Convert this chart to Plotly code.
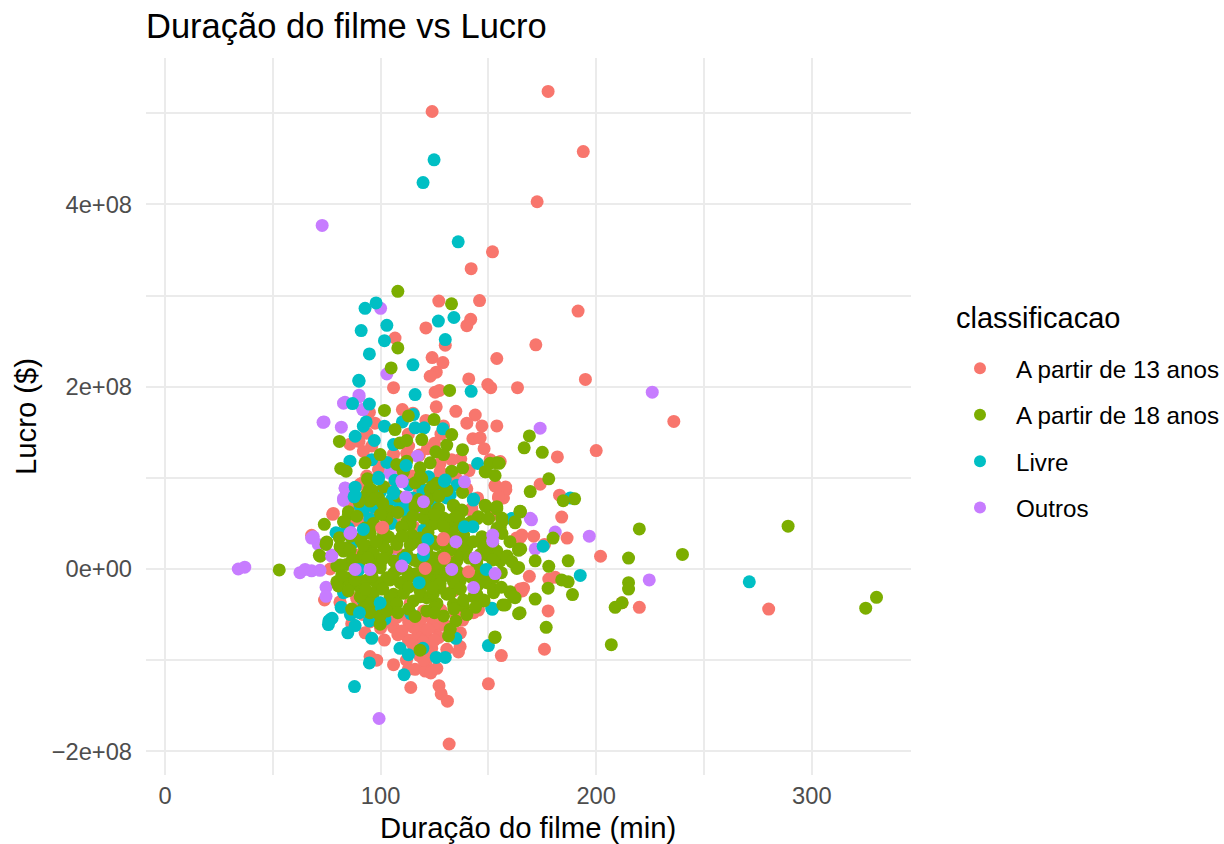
import numpy as np
import plotly.graph_objects as go

# (duracao em min, lucro em milhoes de $)
pontos_13 = [
    (177.7, 524), (123.9, 502), (194, 458), (172.6, 403), (151.9, 348), (142, 329.5), (127, 294), (145.9, 294.5),
    (141.8, 274), (140, 267), (191.6, 283), (121, 264.5), (106.7, 253.5), (172, 246), (130, 245.5), (123.9, 232),
    (128.9, 226.5), (153.9, 231), (125.8, 216), (123, 211.5), (140.9, 208.6), (195, 208), (149.7, 202.4), (151.1, 199),
    (106, 199), (163.5, 199), (125.3, 194), (127.3, 196), (125.8, 178), (134.9, 173), (110.1, 175), (115, 171),
    (94.8, 172), (97.4, 160), (121, 163), (129.2, 157), (143.9, 169), (140, 160), (147, 157), (153.9, 157),
    (142.8, 143), (146.2, 144), (148, 132), (121.7, 132), (85.8, 137), (90, 140), (93.6, 149), (95.9, 135),
    (92, 129), (106, 126), (112.1, 127), (112.9, 148), (150.8, 120), (155.5, 118), (137.2, 121), (133, 120),
    (127.6, 116), (127.6, 107), (99, 109), (93.6, 102), (114.5, 102), (153.1, 91), (158.1, 87), (154.7, 78),
    (157, 78), (121.4, 80), (77.8, 60), (94.4, 60), (97.4, 65), (87.4, 53), (106, 56), (116, 43),
    (123.8, 53), (68, 37), (142.3, 64), (90.5, 93), (163, 34), (236, 162), (200, 130), (182, 123),
    (158, 90), (174, 93), (183, 81), (184, 57), (165, 35), (171, 36), (176, 27), (186.5, 34),
    (181, -9), (178, -11), (169, -8), (165.7, -24), (177.7, -46), (176, -88), (212, -37), (220, -42),
    (280, -44), (202, 14), (74, -34), (81.2, -37), (86.6, -60), (92.8, -70), (101.8, -78), (106, -64),
    (95.1, -96), (98.2, -100), (106, -105), (112.9, -110), (116, -110), (121, -104), (120.7, -112), (123.3, -114),
    (126.1, -109), (114, -130), (127.1, -128), (128.1, -137), (131, -145), (150, -126), (156, -95), (136.9, -85),
    (136.1, -91), (130.7, -88), (123.7, -87), (112.9, -78), (125.8, -65), (138.1, -56), (143.1, -48), (145.4, -45),
    (164.7, -22), (118.3, -68), (118.3, -57), (116.8, -75), (121.4, -75), (115.2, -64), (119.9, -46), (107.5, -53),
    (123, -53), (76.6, 0), (129.2, 12), (107.5, 18), (119.9, 1.5), (118.3, -17), (133.8, -24), (96.7, -43),
    (88.9, -32), (102.9, -57), (131.8, -192),
    (91.3, 94), (114.5, 101.3), (78.1, 61), (94.4, 62.9), (106.8, 57.4), (89.7, 53.7), (99.8, 64.7), (115.3, 46.4),
    (87.4, 72), (153.2, 92), (157.8, 88.5), (154.7, 79.4), (126, 99.5), (142.3, 66.5), (136.2, 48.2), (165.5, 37.3),
    (151.6, 59.2), (107.5, 19), (81.2, -36), (95.2, -10), (113.7, -37.7), (89.7, 15.4), (166.3, -21), (123.8, -28.6),
    (133, -25), (144.7, -41), (129.2, 30), (134.6, 18), (150.5, -15.8), (110, -50), (125, -60), (113, -58),
    (128, -45), (105, -42), (120, -80), (122, -66), (118, -95), (100, -48), (135, -50), (90, -45),
    (110, -68), (105, -55), (130, -62), (127, -75), (115, -83), (122, -92), (125, -78), (108, -72),
    (100, -65), (95, -58), (92, -50), (137, -70), (120, -100), (116, -88), (112, -100), (105, 115),
    (118, 125), (125, 138), (113, 135), (100, 120), (128, 148), (110, 108), (118, 85), (105, 90),
    (140, 88), (145, 78), (135, 100), (141, 108),
]
pontos_18 = [
    (108, 304.7), (132.9, 291), (108, 242.6), (104.9, 220.7), (132, 196), (101.8, 174), (112.9, 168), (124.8, 164),
    (106.7, 153), (133, 147.5), (80.9, 140), (109, 138.4), (112.1, 141), (119.1, 142), (130.7, 136), (138, 131),
    (125.6, 128.6), (129.2, 125.6), (99.8, 125.6), (92.8, 116.5), (81.5, 110.3), (84, 107.4), (107.5, 114.7), (112.1, 118.3),
    (123, 116.5), (118.3, 111), (133, 107.4), (138.1, 111), (153.9, 116.5), (148.8, 106.6), (153.1, 102.6), (119.1, 99.3),
    (116, 94.6), (93.9, 99), (94.8, 87.3), (95.9, 78), (99, 78), (130.7, 86.2), (116, 68), (117.6, 76.3),
    (149, 68.3), (153.9, 66), (133.8, 69), (137.7, 63.5), (126.8, 65.4), (85.1, 60), (83.1, 51.8), (73.9, 49),
    (102.9, 54.4), (109.8, 45.3), (123.8, 49), (145, 55.5), (150, 55), (156.2, 56), (164.7, 63.5), (162.4, 50.7),
    (138.4, 34.3), (147, 34.3), (130.7, 45.3), (80.9, 34.3), (75, 29.6), (90.9, 31.4), (114.5, 34.3), (101.3, 36),
    (96.7, 49), (107.5, 30.6), (124.5, 30.6), (155.5, 45.3), (93.6, 81.8), (95.1, 74.5), (92.8, 45), (104.4, 63.5),
    (113.7, 49), (119.9, 56), (129.2, 56), (140, 49), (133.8, 45), (118.3, 34), (130.7, 34),
    (325, -43), (330, -31), (289, 47), (240, 16), (220, 44), (215, 12), (215, -15), (215, -22),
    (212, -37), (207, -83), (208.8, -42), (189, -28), (187, -14), (184, -12), (187, 9), (178, 3),
    (177.7, -21), (176.8, -64), (171.7, -33), (164.7, -48), (153, -75), (169, 146), (166.6, 133), (175, 128),
    (178, 99), (184.7, 75), (190, 77), (180, 34), (164.7, 62.5), (164, 22), (171.7, 9), (150.8, 116),
    (155, 116), (72, 14), (53, -1), (74.7, 27), (71.6, 15), (164, 20.5), (163.2, 0.7), (160.1, -26),
    (162.4, -31.4), (156.7, -39.4), (148, -35), (164, -49), (153.1, -74.5), (134.9, -57), (132.3, -66), (131.5, -73.4),
    (118.3, -89), (99.8, -60.6), (99.8, -51.5), (86.6, -44), (104.4, -38.7), (115.2, -35), (121.4, -46), (129.2, -51.5),
    (138.4, -40.5), (144.6, -27.7), (152.4, -26), (149.3, -15), (79.7, 3.3), (108, -0.4), (99.8, 1.5), (84.3, 5),
    (80.4, -18.6), (90.5, -20.4), (99.8, -15), (109, -15), (118.3, -6), (127.6, -2.2), (136.9, -13), (130.7, -27.7),
    (158.6, 14.3), (153.9, 19.7), (146.2, 16), (135.4, 8.8), (124.5, 12.4), (112.1, 16), (102.9, 19.7), (92, 16),
    (82.8, 19.7), (75, 28.9), (115.2, 28.9), (127.6, -20.4), (106, -27.7), (95.1, -33.2), (121.4, -31.4), (133.8, -38.7),
    (140, -5.8), (155.5, 8.8), (119.9, -16.8), (112.1, -2.2), (88.9, -5.8), (96.7, 12.4), (84.3, -9.5), (93.6, -12.4),
    (102.9, -9.5), (115.2, -5.8), (124.5, -2.2), (130.7, 8.8), (136.9, 16), (144.6, 5.1), (149.3, 16), (90.5, 8.8),
    (106, 8.8), (121.4, 19.7), (130.7, 23.4), (140, 23.4), (147.7, 25.2), (84.3, 23.4), (93.6, 25.2), (107.5, 27),
    (126.1, 27), (116.8, 8.8), (126.1, -13), (118.3, -24), (135.4, -2.2), (146.2, -5.8), (152.4, -9.5),
    (94.4, 97.6), (96, 86.7), (97.5, 77.5), (101.4, 90.3), (110.6, 106.8), (118.4, 101.3), (116, 72), (120.7, 66.5),
    (123, 86.7), (85.1, 62.9), (82.8, 51.9), (102.9, 55.6), (96.7, 50), (95.2, 39), (101.4, 41), (112.2, 51.9),
    (114.5, 37.3), (109.9, 46.4), (90.5, 33.6), (103.7, 35.4), (148.5, 106.8), (126, 94), (130.7, 86.7), (133.8, 70),
    (137.7, 64.7), (148.5, 70), (153.9, 68.4), (164.8, 63), (162.4, 52), (145.4, 57.4), (150, 55.6), (156.3, 52),
    (154, 44.6), (126.9, 66.5), (125.3, 50), (132.3, 53.7), (136.9, 52), (129.2, 46.4), (147, 35.4), (138.5, 37.3),
    (156.3, 39), (169.4, 85), (123.8, 90.3), (81.2, 24.5), (85.9, 20.8), (92, 26.3), (96.7, 17.2), (101.4, 24.5),
    (113.7, 26.3), (81.2, 4.4), (99.8, 4.4), (107.5, 0.7), (115.3, 9.9), (123, 6.2), (79.7, -14), (85.9, -15.8),
    (92, -15.8), (98.3, -15.8), (104.4, -12), (110.6, -14), (116.8, -4.8), (123, -12), (90.5, -30.4), (96.7, -26.7),
    (104.4, -30.4), (110.6, -26.7), (118.4, -30.4), (95.2, -37.7), (107.5, -37.7), (123, -30.4), (127.6, 6.2), (132.3, 20.8),
    (138.5, 26.3), (149.3, 26.3), (154, 17.2), (158.6, 13.5), (160.9, 8), (165, 22), (164, 1.8), (160.1, -25),
    (161.7, -30.4), (157.8, -39.5), (147.8, -34), (152.4, -23), (124.5, 4.4), (127.6, -15.8), (136.9, -4.8), (132.3, -26.7),
    (138.5, -34), (126.1, -37.7), (143.1, -30.4), (146.2, -12), (124.5, -26.7), (144.7, 9.9), (149.3, 15.4), (133.8, -14),
    (87, 11), (94, 12), (101, 11), (110, 12), (119, 12), (128, 14), (141, 12), (152, 10),
    (82, -7), (88, -12), (96, -8), (106, -5), (113, -9), (121, -8), (131, -7), (142, -9),
    (149, -6), (156, -4), (85, -24), (93, -22), (101, -22), (113, -20), (124, -21), (137, -22),
    (145, -18), (156, -20), (92, -43), (103, -46), (113, -44), (125, -42), (134, -44), (144, -42),
    (86, 36), (98, 30), (110, 36), (122, 40), (135, 34), (143, 30), (152, 28), (160, 30),
    (89, 58), (100, 60), (108, 62), (115, 58), (125, 60), (135, 58), (142, 52), (101, 72),
    (108, 80), (122, 76), (127, 80), (138, 84), (90, 74), (108, -48), (116, -52), (125, -48),
    (95, -48), (140, -50),
]
pontos_livre = [
    (124.8, 449), (119.7, 424), (136, 359), (92.8, 286), (97.9, 292), (102.9, 267.4), (91, 261.6), (101.8, 250.6),
    (126.8, 272), (134, 276), (130, 251.7), (94.8, 236), (115, 224), (89.9, 207), (90, 206), (116, 191.4),
    (142, 195), (87, 181.5), (94.8, 181), (115.2, 169.5), (92, 156.7), (93.3, 161.4), (101.8, 156.7), (110.1, 161.4),
    (116, 154.9), (120.2, 154.9), (128.9, 153.8), (88.2, 145.7), (97.1, 141), (106, 136.6), (85.8, 118.3), (95.9, 120),
    (102.9, 117), (145, 115.8), (106.7, 97.5), (135.4, 92), (88.2, 89.8), (90.5, 69), (119.6, 85.5), (126.8, 81.8),
    (130.7, 78), (143, 75.6), (109, 70.8), (111.4, 63.5), (160.9, 55.5), (79.3, 39.8), (87, 28.8), (271, -14),
    (192.6, -7), (188, 78), (175.4, 25), (161, 55), (151.7, -44), (150, -84), (76, -57), (77.5, -54),
    (76.9, -55), (75.8, -61), (84.8, -70), (88.2, -62), (95.9, -76), (94.8, -57), (81.7, -42), (82.8, -26),
    (114, -49), (109, -87), (112.9, -94), (119.6, -87), (125.8, -97), (130, -97), (94.8, -103), (110.9, -116),
    (87.9, -129), (134.9, -76), (151.9, -44), (110.9, 10.6), (99, 100.6), (92, 64.7), (80.5, 39), (108.3, 62.9),
    (119.9, 86.7), (110.6, 68.4), (122.2, 101.3), (126.9, 83), (132.3, 81.2), (143.1, 76.8), (151.6, -43), (100, 85),
    (113, 92), (97, 68), (105, 76), (115, 78), (125, 70), (95, 55), (85, 45), (105, 50),
    (120, 43), (92, -35), (86, -50), (102, -55), (98, -42),
]
pontos_outros = [
    (72.9, 377), (100, 286), (102.9, 214), (226, 194), (174, 154.5), (224.6, -12), (196.8, 36), (181, 40.5),
    (170, 54), (171.7, 22), (34, 0), (37, 2), (62.6, -4), (65, -0.4), (68, -2), (71.9, -1.4),
    (68, 34), (73.3, 161), (99.3, -164), (83.5, 183), (90, 190.7), (91.9, 175), (83.5, 89), (83, 77),
    (74.7, -20), (74.7, -30), (90, 188.8), (82.8, 182), (91.7, 175), (73.8, 161.4), (81.8, 155.6), (117.1, 123.8),
    (84, 86.5), (82.8, 75.2), (115.2, 58), (71.1, 27), (128.4, 54.4), (83.6, 88.5), (82.8, 77.5), (116, 59),
    (104.4, 105), (128.4, 55.6), (169.4, 55.6), (77.4, 15.4), (106.8, 9.9), (133.8, 30),
]

# pontos que aparecem por cima do verde na nuvem central
topo_13 = [(100.5, 45), (128.9, 32), (140.8, -3), (101, 45.7), (129.2, 33.6), (129.6, 11.7), (120.7, 0.7)]
topo_livre = [
    (111.8, 113.6), (99, 99), (129.6, 96.4), (106, 83), (87.7, 79.2), (138.9, 46.4), (142.8, 46.4), (92, 43.4),
    (121.9, 32.5), (90.2, -48), (99.8, -37), (149, -0.4), (90, -0.4), (119.9, 15), (117.9, -15),
    (88.2, 81.2), (106, 84.8), (130, 97.6), (111.4, 11.7),
]
topo_outros = [
    (110, 95.7), (138.9, 95.7), (111.8, 78.9), (119.9, 73.8), (85.8, 39), (68.8, 35.4), (134.9, 30), (152, 37.2),
    (152, 30.6), (119.9, 21.5), (77.3, 14), (88.2, -0.4), (95.1, -0.4), (109.8, 3.3), (133, -0.4), (143.1, -20.4),
    (153.1, -5), (143.9, 12.4), (109.9, 96.9), (86.2, 40.2),
]

x_ticks = [0, 100, 200, 300]
x_minor = [50, 150, 250]
y_ticks = [-2e8, 0, 2e8, 4e8]
y_labels = ["\u22122e+08", "0e+00", "2e+08", "4e+08"]
y_minor = [-1e8, 1e8, 3e8, 5e8]

COR_13 = "#F8766D"
COR_18 = "#7CAE00"
COR_LIVRE = "#00BFC4"
COR_OUTROS = "#C77CFF"
FONTE = "Liberation Sans"
GRADE = "#EBEBEB"


def camada(pontos, cor, nome, legenda=False, rank=1000):
    arr = np.array(pontos)
    return go.Scatter(
        x=arr[:, 0], y=arr[:, 1] * 1e6, mode="markers", name=nome, legendgroup=nome,
        showlegend=legenda, legendrank=rank,
        marker=dict(color=cor, size=13, line=dict(width=0)),
    )


fig = go.Figure()
fig.add_trace(camada(pontos_13, COR_13, "A partir de 13 anos", True, 1))
fig.add_trace(camada(pontos_outros, COR_OUTROS, "Outros", True, 4))
fig.add_trace(camada(pontos_livre, COR_LIVRE, "Livre", True, 3))
fig.add_trace(camada(pontos_18, COR_18, "A partir de 18 anos", True, 2))
fig.add_trace(camada(topo_13, COR_13, "A partir de 13 anos"))
fig.add_trace(camada(topo_livre, COR_LIVRE, "Livre"))
fig.add_trace(camada(topo_outros, COR_OUTROS, "Outros"))

fig.update_layout(
    width=1224, height=844,
    margin=dict(l=146, r=313, t=58, b=69),
    paper_bgcolor="white", plot_bgcolor="white",
    font=dict(family=FONTE, color="black"),
    title=dict(text="Duração do filme vs Lucro", font=dict(size=34.5, color="black"),
               xref="paper", x=0, xanchor="left", yref="container", y=1 - 26 / 844, yanchor="middle"),
    legend=dict(
        font=dict(size=24.2, color="black"),
        xref="container", yref="container", x=944 / 1224, xanchor="left", y=1 - 438 / 844, yanchor="middle",
        traceorder="grouped", tracegroupgap=12, itemsizing="constant", itemwidth=62, bgcolor="rgba(0,0,0,0)",
    ),
    # titulo da legenda e do eixo x como anotacao: o standoff do eixo empurra a margem
    annotations=[
        dict(text="classificacao", font=dict(size=29, color="black"), showarrow=False,
             xref="paper", yref="paper", x=(954 - 146) / 765, xanchor="left",
             y=(775 - 318) / 717, yanchor="middle"),
        dict(text="Duração do filme (min)", font=dict(size=29.3, color="black"), showarrow=False,
             xref="paper", yref="paper", x=0.499, xanchor="center",
             y=(775 - 827) / 717, yanchor="middle"),
    ],
)
fig.update_xaxes(
    range=[-8.8, 346], tickmode="array", tickvals=x_ticks, showline=False, zeroline=False,
    ticks="", showgrid=True, gridcolor=GRADE, gridwidth=2.4, ticklabelstandoff=4,
    tickfont=dict(size=23.7, color="#4D4D4D"),
    minor=dict(tickmode="array", tickvals=x_minor, showgrid=True, gridcolor=GRADE, gridwidth=1.6),
)
fig.update_yaxes(
    range=[-226e6, 560.7e6], tickmode="array", tickvals=y_ticks, ticktext=y_labels,
    showline=False, zeroline=False, ticks="", showgrid=True, gridcolor=GRADE, gridwidth=2.4, ticklabelstandoff=13,
    tickfont=dict(size=23.7, color="#4D4D4D"),
    title=dict(text="Lucro ($)", font=dict(size=29.3), standoff=6),
    minor=dict(tickmode="array", tickvals=y_minor, showgrid=True, gridcolor=GRADE, gridwidth=1.6),
)

fig.write_html("out.html", config={"displayModeBar": False}, post_script="document.body.style.margin='0';")
